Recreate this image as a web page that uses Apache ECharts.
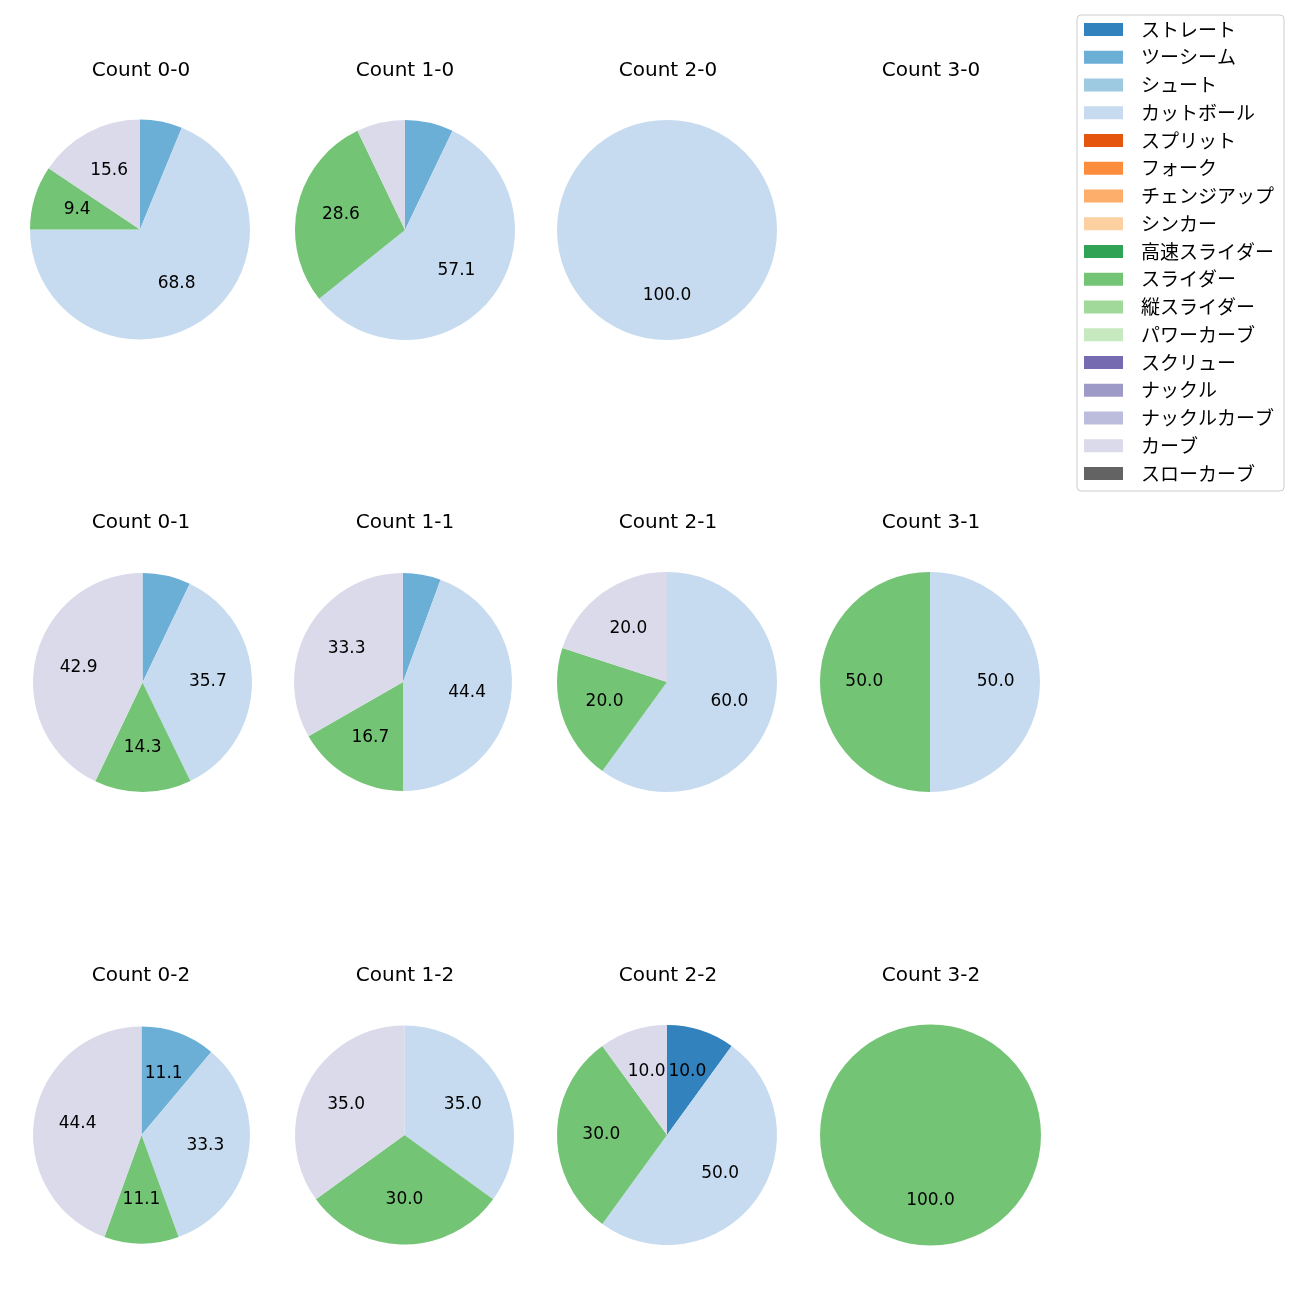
<!DOCTYPE html>
<html>
<head>
<meta charset="utf-8">
<script src="https://cdn.jsdelivr.net/npm/echarts@6/dist/echarts.min.js"></script>
<style>
html,body{margin:0;padding:0;background:#fff;}
#chart{width:1300px;height:1300px;}
</style>
</head>
<body>
<div id="chart"></div>
<script>
// Pitch types (legend order)
const pitchTypes = ['ストレート','ツーシーム','シュート','カットボール','スプリット','フォーク','チェンジアップ','シンカー','高速スライダー','スライダー','縦スライダー','パワーカーブ','スクリュー','ナックル','ナックルカーブ','カーブ','スローカーブ'];
const pitchColors = ['#3182bd','#6baed6','#9ecae1','#c6dbef','#e6550d','#fd8d3c','#fdae6b','#fdd0a2','#31a354','#74c476','#a1d99b','#c7e9c0','#756bb1','#9e9ac8','#bcbddc','#dadaeb','#636363'];

// Percentages per count, in pitchTypes order
const count00 = [0,6.2,0,68.8,0,0,0,0,0,9.4,0,0,0,0,0,15.6,0];
const count10 = [0,7.1,0,57.1,0,0,0,0,0,28.6,0,0,0,0,0,7.1,0];
const count20 = [0,0,0,100,0,0,0,0,0,0,0,0,0,0,0,0,0];
const count30 = [0,0,0,0,0,0,0,0,0,0,0,0,0,0,0,0,0];
const count01 = [0,7.1,0,35.7,0,0,0,0,0,14.3,0,0,0,0,0,42.9,0];
const count11 = [0,5.6,0,44.4,0,0,0,0,0,16.7,0,0,0,0,0,33.3,0];
const count21 = [0,0,0,60,0,0,0,0,0,20,0,0,0,0,0,20,0];
const count31 = [0,0,0,50,0,0,0,0,0,50,0,0,0,0,0,0,0];
const count02 = [0,11.1,0,33.3,0,0,0,0,0,11.1,0,0,0,0,0,44.4,0];
const count12 = [0,0,0,35,0,0,0,0,0,30,0,0,0,0,0,35,0];
const count22 = [10,0,0,50,0,0,0,0,0,30,0,0,0,0,0,10,0];
const count32 = [0,0,0,0,0,0,0,0,0,100,0,0,0,0,0,0,0];

const panelTitles = [
  ['Count 0-0','Count 1-0','Count 2-0','Count 3-0'],
  ['Count 0-1','Count 1-1','Count 2-1','Count 3-1'],
  ['Count 0-2','Count 1-2','Count 2-2','Count 3-2']
];
const panelData = [
  [count00,count10,count20,count30],
  [count01,count11,count21,count31],
  [count02,count12,count22,count32]
];

// layout (pixels)
const titleX = [141,405,668,931];
const titleTop = [61,513,966];
const pieCenters = [
  [[140,229.5],[405,230],[667,230],[930,230]],
  [[142.5,682.5],[403,682],[667,682],[930,682]],
  [[141.5,1135],[404.5,1135],[667,1135],[930.5,1135]]
];
const pieRadii = [
  [110,110,110,110],
  [109.5,109,110,110],
  [108.5,109.5,110,110.5]
];
const LATIN = '"DejaVu Sans", sans-serif';
const JP = '"Noto Sans CJK JP", "Noto Sans", sans-serif';

const titles = [];
const series = [];
for (let r = 0; r < 3; r++) {
  for (let c = 0; c < 4; c++) {
    titles.push({
      text: panelTitles[r][c],
      left: titleX[c],
      top: titleTop[r],
      padding: 0,
      textAlign: 'center',
      textStyle: {fontFamily: LATIN, fontSize: 20, lineHeight: 20, fontWeight: 'normal', color: '#000'}
    });
    const vals = panelData[r][c];
    const R = pieRadii[r][c];
    const ctr = pieCenters[r][c];
    series.push({
      type: 'pie', center: ctr, radius: [0, R],
      startAngle: 90, clockwise: true, stillShowZeroSum: false,
      data: pitchTypes.map((n,i)=>({name:n, value: vals[i], itemStyle:{color: pitchColors[i]}})),
      label: {show: false}, labelLine: {show: false},
      silent: true, animation: false, emphasis: {disabled: true},
      itemStyle: {borderWidth: 0}
    });
    // label overlay ring so the inside labels sit near 0.6R
    series.push({
      type: 'pie', center: ctr, radius: [R*0.14, R],
      startAngle: 90, clockwise: true, stillShowZeroSum: false,
      minShowLabelAngle: 30,
      data: pitchTypes.map((n,i)=>({name:n, value: vals[i], itemStyle:{color:'rgba(0,0,0,0)'}})),
      label: {show: true, position: 'inside', formatter: p => p.value.toFixed(1),
              fontFamily: LATIN, fontSize: 17, color: '#000', offset: [0, -0.5]},
      labelLine: {show: false},
      silent: true, animation: false, emphasis: {disabled: true},
      itemStyle: {borderWidth: 0}
    });
  }
}

const chart = echarts.init(document.getElementById('chart'), null, {renderer: 'canvas'});
chart.setOption({
  backgroundColor: '#fff',
  animation: false,
  title: titles,
  legend: {
    orient: 'vertical', left: 1077, top: 15,
    data: pitchTypes, icon: 'rect', itemWidth: 39, itemHeight: 13, itemGap: 7.75,
    padding: [4.5, 10, 7.5, 7],
    borderColor: '#cccccc', borderWidth: 1, borderRadius: 4,
    textStyle: {fontFamily: JP, fontSize: 19, lineHeight: 20, color: '#000', padding: [0,0,0,13]},
    selectedMode: false
  },
  series: series
});
</script>
</body>
</html>
